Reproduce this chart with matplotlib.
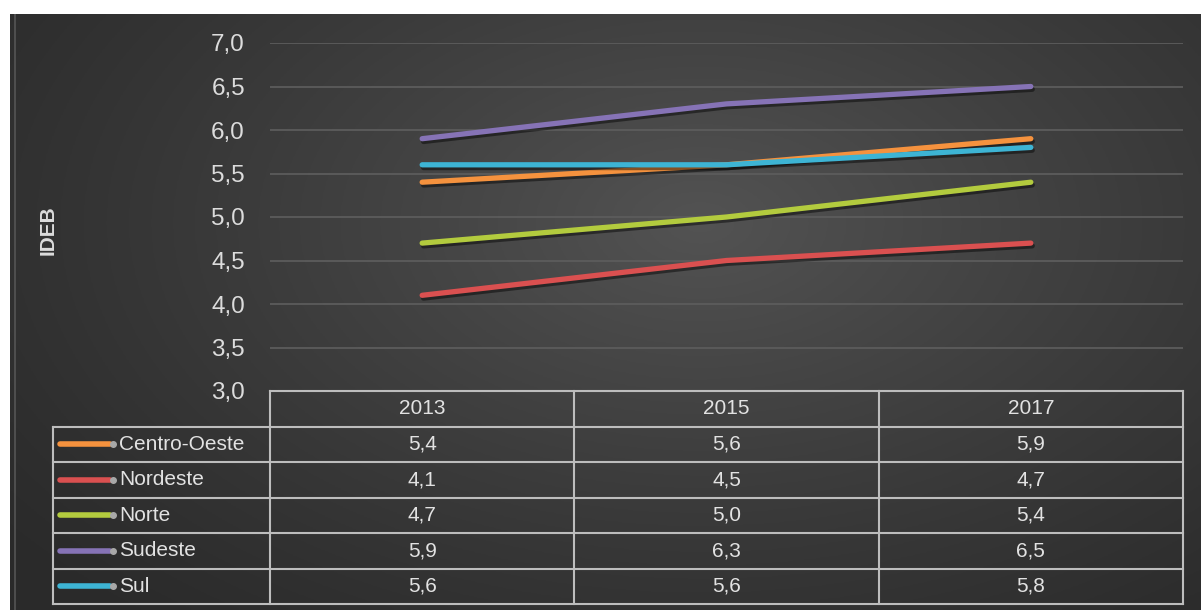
import numpy as np
import matplotlib
matplotlib.use("Agg")
import matplotlib.pyplot as plt
import matplotlib.patheffects as pe
from matplotlib.transforms import blended_transform_factory

plt.rcParams["font.family"] = ["Liberation Sans", "DejaVu Sans"]

# ── Data ───────────────────────────────────────────────────────────────────────
years = ["2013", "2015", "2017"]
regions = ["Centro-Oeste", "Nordeste", "Norte", "Sudeste", "Sul"]
centro_oeste = [5.4, 5.6, 5.9]
nordeste = [4.1, 4.5, 4.7]
norte = [4.7, 5.0, 5.4]
sudeste = [5.9, 6.3, 6.5]
sul = [5.6, 5.6, 5.8]
series = [centro_oeste, nordeste, norte, sudeste, sul]
colors = ["#F5923E", "#DA5050", "#B3CB3E", "#8673B6", "#3DB4D4"]
yticks = [3.0, 3.5, 4.0, 4.5, 5.0, 5.5, 6.0, 6.5, 7.0]

W, H = 1201, 610
fig = plt.figure(figsize=(W / 100, H / 100), dpi=100, facecolor="white")

# dark panel with radial shading
bg = fig.add_axes([10 / W, 0, 1 - 10 / W, 1 - 14 / H])
bg.set_axis_off()
gx, gy = np.meshgrid(np.linspace(0, 1, 400), np.linspace(0, 1, 200))
r = np.sqrt(((gx - 0.58) / 0.75) ** 2 + ((gy - 0.35) / 0.9) ** 2)
shade = np.clip(1 - r, 0, 1) ** 1.2
gray = 0.165 + 0.16 * shade
bg.imshow(np.dstack([gray, gray, gray]), aspect="auto", extent=[0, 1, 1, 0])
bg.set_xlim(0, 1)
bg.set_ylim(1, 0)
bg.axvline(0.004, color="#555555", lw=1.2)

# ── Main plot ──────────────────────────────────────────────────────────────────
left, right = 270 / W, 1183 / W
top, bottom = 1 - 43 / H, 1 - 391 / H
ax = fig.add_axes([left, bottom, right - left, top - bottom])
ax.set_facecolor("none")
x = np.arange(len(years))
for vals, c in zip(series, colors):
    ax.plot(x, vals, color=c, lw=3.8, solid_capstyle="round", zorder=3,
            path_effects=[pe.SimpleLineShadow(offset=(1, -2), alpha=0.45),
                          pe.Normal()])
ax.set_xlim(-0.5, len(years) - 0.5)
ax.set_ylim(3.0, 7.0)
ax.set_yticks(yticks)
ax.set_yticklabels([f"{v:.1f}".replace(".", ",") for v in yticks],
                   fontsize=17.5, color="#dcdcdc")
ax.tick_params(axis="y", length=0, pad=18)
ax.set_xticks([])
for s in ax.spines.values():
    s.set_visible(False)
ax.grid(axis="y", color="#5c5c5c", lw=1.3)
ax.set_axisbelow(True)

fig.text(48 / W, 1 - 230 / H, "IDEB", rotation=90, ha="center", va="center",
         fontsize=15, fontweight="bold", color="#dcdcdc")

# ── Data table ─────────────────────────────────────────────────────────────────
line_c = "#bdbdbd"
row_h = 35.5 / H
tr = blended_transform_factory(ax.transData, fig.transFigure)
n_rows = len(regions)
t_top = bottom
t_bot = t_top - row_h * (n_rows + 1)
leg_left = 53 / W

# horizontal lines
fig.add_artist(plt.Line2D([left, right], [t_top, t_top], color=line_c, lw=1.5))
for k in range(1, n_rows + 2):
    yk = t_top - k * row_h
    fig.add_artist(plt.Line2D([leg_left, right], [yk, yk], color=line_c, lw=1.5))
# vertical lines
for xb in np.arange(len(years) + 1) - 0.5:
    ax.add_line(plt.Line2D([xb, xb], [t_top, t_bot], transform=tr,
                           color=line_c, lw=1.5, clip_on=False))
fig.add_artist(plt.Line2D([leg_left, leg_left], [t_top - row_h, t_bot],
                          color=line_c, lw=1.5))

# header
for i, yr in enumerate(years):
    ax.text(i, t_top - row_h / 2, yr, transform=tr, ha="center", va="center",
            fontsize=15, color="#e2e2e2")

# rows
for j, (name, vals, c) in enumerate(zip(regions, series, colors)):
    yc = t_top - (j + 1.5) * row_h
    fig.add_artist(plt.Line2D([60 / W, 110 / W], [yc, yc], color=c, lw=4,
                              solid_capstyle="round"))
    fig.add_artist(plt.Line2D([113 / W], [yc], marker="o", ms=4,
                              color="#a8a8a8", lw=0))
    fig.text(119 / W, yc, name, ha="left", va="center", fontsize=15,
             color="#e2e2e2")
    for i, v in enumerate(vals):
        ax.text(i, yc, f"{v:.1f}".replace(".", ","), transform=tr,
                ha="center", va="center", fontsize=15, color="#e2e2e2")

fig.savefig("out.png", dpi=100, facecolor="white")
